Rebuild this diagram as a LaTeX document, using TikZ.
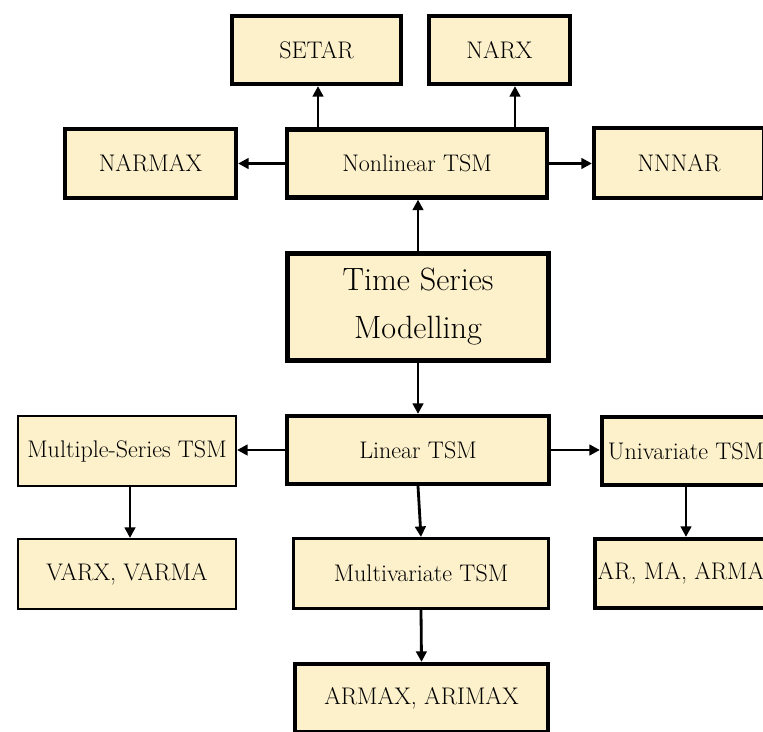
\documentclass[tikz,border=0pt]{standalone}
\usetikzlibrary{arrows.meta}
\definecolor{boxfill}{RGB}{253,241,203}

\begin{document}
\begin{tikzpicture}[x=0.03cm,y=-0.03cm,
        box/.style={draw=black,fill=boxfill,line width=3.6pt,inner sep=0pt,
            font=\fontsize{20.5}{24}\selectfont},
        thinbox/.style={box,line width=1.8pt},
        arr/.style={line width=2.4pt,-{Triangle[length=9pt,width=9pt]}}]
        \useasboundingbox (0,0) rectangle (763,731);
        \node[box,minimum width=169*0.03cm,minimum height=68*0.03cm] (setar) at (316.5,50) {SETAR};
        \node[box,minimum width=141*0.03cm,minimum height=68*0.03cm] (narx) at (499.5,50) {NARX};
        \node[box,minimum width=171*0.03cm,minimum height=69*0.03cm] (narmax) at (150.5,163.5) {NARMAX};
        \node[box,minimum width=260*0.03cm,minimum height=68*0.03cm] (nonlin) at (417,163.5) {Nonlinear TSM};
        \node[box,minimum width=170*0.03cm,minimum height=70*0.03cm] (nnnar) at (679,163) {NNNAR};
        \node[box,minimum width=261*0.03cm,minimum height=107*0.03cm,align=center,
            font=\fontsize{27.5}{41}\selectfont] (tsm) at (418,307) {Time Series\\Modelling};
        \node[box,minimum width=262*0.03cm,minimum height=68*0.03cm] (linear) at (418,450) {Linear TSM};
        \node[thinbox,minimum width=218*0.03cm,minimum height=70*0.03cm] (multi) at (127,451) {Multiple-Series TSM};
        \node[box,minimum width=168*0.03cm,minimum height=68*0.03cm] (uni) at (686,451) {Univariate TSM};
        \node[thinbox,minimum width=218*0.03cm,minimum height=70*0.03cm] (varx) at (127,574) {VARX, VARMA};
        \node[box,line width=2.6pt,minimum width=255*0.03cm,minimum height=70*0.03cm] (multivar) at (421,573.5) {Multivariate TSM};
        \node[box,minimum width=172*0.03cm,minimum height=69*0.03cm] (arma) at (681,573.5) {AR, MA, ARMA};
        \node[box,minimum width=253*0.03cm,minimum height=68*0.03cm] (armax) at (421.5,698) {ARMAX, ARIMAX};

        \draw[arr] (nonlin.north -| 318,0) -- (setar.south -| 318,0);
        \draw[arr] (nonlin.north -| 515,0) -- (narx.south -| 515,0);
        \draw[arr] (nonlin.west) -- (narmax.east |- nonlin.west);
        \draw[arr] (nonlin.east) -- (nnnar.west |- nonlin.east);
        \draw[arr] (tsm.north) -- (nonlin.south -| tsm.north);
        \draw[arr] (tsm.south) -- (linear.north);
        \draw[arr] (linear.west) -- (multi.east |- linear.west);
        \draw[arr] (linear.east) -- (uni.west |- linear.east);
        \draw[arr] (multi.south -| 130,0) -- (varx.north -| 130,0);
        \draw[arr] (linear.south) -- (multivar.north);
        \draw[arr] (uni.south) -- (arma.north -| uni.south);
        \draw[arr] (multivar.south) -- (armax.north);
\end{tikzpicture}
\end{document}
